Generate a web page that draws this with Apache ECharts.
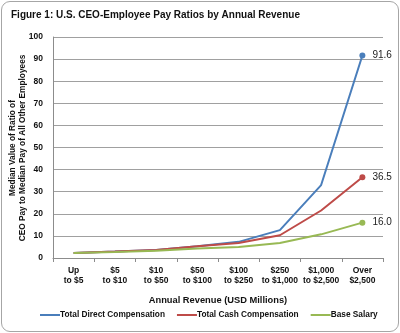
<!DOCTYPE html>
<html>
<head>
<meta charset="utf-8">
<script src="https://cdn.jsdelivr.net/npm/echarts@6/dist/echarts.min.js"></script>
<style>
  html, body { margin: 0; padding: 0; background: #fff; }
  #frame {
    position: absolute; left: 1px; top: 1px; width: 396px; height: 329px;
    border: 1px solid #a6a6a6; border-radius: 9px; box-sizing: content-box;
  }
  #chart { position: absolute; left: 0; top: 0; width: 400px; height: 333px; }
</style>
</head>
<body>
<div id="frame"></div>
<div id="chart"></div>
<script>
// Revenue bands (USD millions)
const categories = ['Up\nto $5', '$5\nto $10', '$10\nto $50', '$50\nto $100',
  '$100\nto $250', '$250\nto $1,000', '$1,000\nto $2,500', 'Over\n$2,500'];

// Median CEO-to-employee pay ratios per band
const totalDirect = [2.3, 2.9, 3.6, 5.3, 7.3, 12.6, 33.0, 91.6];
const totalCash   = [2.3, 2.9, 3.6, 5.3, 6.8, 10.3, 21.5, 36.5];
const baseSalary  = [2.3, 2.7, 3.3, 4.3, 5.0, 6.8, 10.7, 16.0];

const yTicks = [0, 10, 20, 30, 40, 50, 60, 70, 80, 90, 100];
const yTitleLines = ['Median Value of Ratio of', 'CEO Pay to Median Pay of All Other Employees'];

const FONT = 'Liberation Sans';
const chart = echarts.init(document.getElementById('chart'), null, { renderer: 'canvas' });

function lineSeries(name, values, color) {
  const last = values.length - 1;
  return {
    name: name,
    type: 'line',
    data: values.map((v, i) => i === last
      ? { value: v, symbol: 'circle', symbolSize: 6,
          label: { show: true, position: 'right', distance: 7,
                   formatter: p => p.value.toFixed(1),
                   color: '#222', fontSize: 10, fontFamily: FONT } }
      : { value: v, symbol: 'none' }),
    showSymbol: true,
    symbol: 'none',
    lineStyle: { color: color, width: 2 },
    itemStyle: { color: color },
    emphasis: { disabled: true },
    animation: false
  };
}

chart.setOption({
  animation: false,
  title: {
    text: 'Figure 1: U.S. CEO-Employee Pay Ratios by Annual Revenue',
    left: 6, top: 5,
    textStyle: { fontFamily: FONT, fontSize: 10, fontWeight: 'bold', color: '#111' }
  },
  grid: { left: 53, right: 17, top: 37, bottom: 75, containLabel: false, outerBoundsMode: 'none' },
  legend: {
    bottom: 9, left: 35,
    itemWidth: 20, itemHeight: 2, itemGap: 12,
    icon: 'rect',
    textStyle: { fontFamily: FONT, fontSize: 8.3, fontWeight: 'bold', color: '#111', padding: [0, 0, 0, -5] },
    data: ['Total Direct Compensation', 'Total Cash Compensation', 'Base Salary']
  },
  // vertical axis title, two lines read bottom-to-top
  graphic: [{
    type: 'text',
    x: 18, y: 148,
    rotation: Math.PI / 2,
    style: {
      text: yTitleLines.join('\n'),
      fontFamily: FONT, fontSize: 8.3, fontWeight: 'bold', fill: '#111',
      lineHeight: 10, align: 'center', verticalAlign: 'middle'
    },
    silent: true
  }],
  xAxis: {
    type: 'category',
    data: categories,
    boundaryGap: true,
    name: 'Annual Revenue (USD Millions)',
    nameLocation: 'middle',
    nameGap: 38,
    nameTextStyle: { fontFamily: FONT, fontSize: 9.3, fontWeight: 'bold', color: '#111' },
    axisLine: { lineStyle: { color: '#8c8c8c' } },
    axisTick: { show: true, length: 4, lineStyle: { color: '#8c8c8c' } },
    axisLabel: { fontFamily: FONT, fontSize: 8.5, fontWeight: 'bold', color: '#111',
                 margin: 8, lineHeight: 10, interval: 0 }
  },
  yAxis: {
    type: 'value',
    min: yTicks[0], max: yTicks[yTicks.length - 1], interval: 10,
    axisLine: { show: true, lineStyle: { color: '#8c8c8c' } },
    axisTick: { show: false },
    splitLine: { lineStyle: { color: '#a0a0a0', width: 1 } },
    axisLabel: { fontFamily: FONT, fontSize: 8.5, fontWeight: 'bold', color: '#111', margin: 10 }
  },
  series: [
    lineSeries('Total Direct Compensation', totalDirect, '#4a7ebb'),
    lineSeries('Total Cash Compensation', totalCash, '#be4b48'),
    lineSeries('Base Salary', baseSalary, '#98b954')
  ]
});
</script>
</body>
</html>
